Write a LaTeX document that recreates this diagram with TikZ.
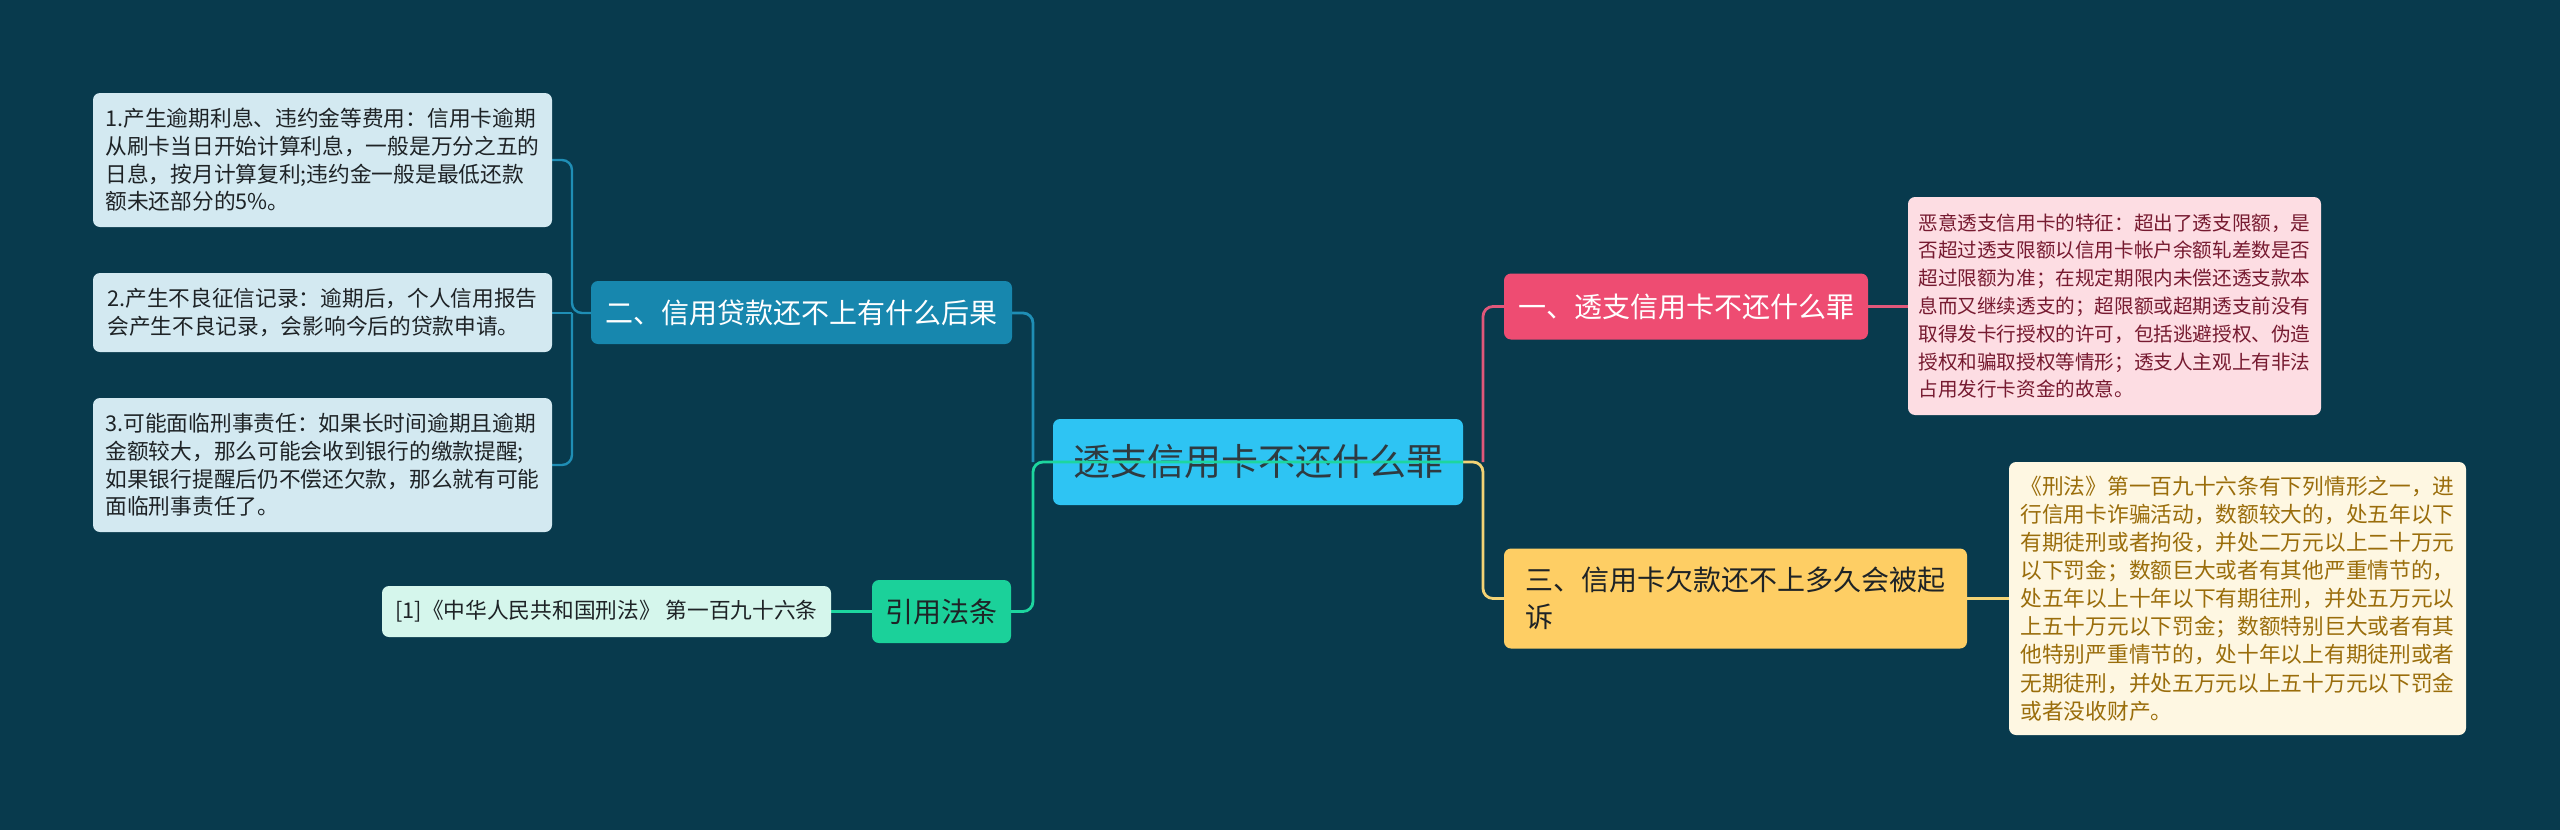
\documentclass[tikz,border=0pt]{standalone}
\usepackage{fontspec}
\setmainfont{Noto Sans CJK SC}
\definecolor{bg}{HTML}{083A4D}
\definecolor{cfill}{HTML}{2EC4F3}
\definecolor{ctext}{HTML}{2F3A40}
\definecolor{bluef}{HTML}{1787AE}
\definecolor{bluel}{HTML}{1F8EB5}
\definecolor{pinkf}{HTML}{EE4C72}
\definecolor{pinkl}{HTML}{E0577A}
\definecolor{yelf}{HTML}{FECE64}
\definecolor{yell}{HTML}{F3D375}
\definecolor{greenf}{HTML}{1BD19A}
\definecolor{greenl}{HTML}{1DD69F}
\definecolor{lbluef}{HTML}{D3E9F1}
\definecolor{lgreenf}{HTML}{D5F6EC}
\definecolor{lpinkf}{HTML}{FDDDE3}
\definecolor{lpinkt}{HTML}{761A30}
\definecolor{lyelf}{HTML}{FEF7E2}
\definecolor{lyelt}{HTML}{9A6D0B}
\definecolor{darkt}{HTML}{1E2326}
\tikzset{
  box/.style={rounded corners=7pt, inner sep=0pt, align=left},
  conn/.style={line width=2.8pt, rounded corners=10pt},
  thinconn/.style={line width=2.4pt, rounded corners=10pt}
}
\begin{document}
\begin{tikzpicture}[x=1pt,y=-1pt]
\fill[bg] (0,0) rectangle (2560,830);
\useasboundingbox (0,0) rectangle (2560,830);

\coordinate (lf) at (1033,462);
\coordinate (rf) at (1483,462);
\coordinate (lf2) at (572,313);

% connectors below nodes
\draw[conn, bluel] (1012,313) -| (lf);
\draw[conn, pinkl] (rf) |- (1504,306.5);
\draw[conn, yell] (1463,462) -- (rf) |- (1504,598.5);
\draw[thinconn, bluel] (591,313) -- (lf2) |- (552,160);
\draw[thinconn, bluel] (lf2) |- (552,465);
\draw[thinconn, bluel] (lf2) -- (552,313);
\draw[thinconn, pinkl] (1868,306.5) -- (1908,306.5);
\draw[thinconn, yell] (1967,598.5) -- (2009,598.5);
\draw[thinconn, greenl] (872,611.5) -- (831,611.5);

% nodes
\node[box, fill=cfill, text=ctext, minimum width=410pt, minimum height=86pt, align=center,
  font=\fontsize{37}{44}\selectfont] (c) at (1258,462) {透支信用卡不还什么罪};

\node[box, fill=pinkf, text=white, minimum width=364pt, minimum height=66pt, align=center,
  font=\fontsize{28}{34}\selectfont] (n1) at (1686,306.5) {一、透支信用卡不还什么罪};

\node[box, fill=bluef, text=white, minimum width=421pt, minimum height=63pt, align=center,
  font=\fontsize{28}{34}\selectfont] (n2) at (801.5,312.5) {二、信用贷款还不上有什么后果};

\node[box, fill=yelf, text=darkt, minimum width=463pt, minimum height=100pt,
  font=\fontsize{28}{37}\selectfont] (n3) at (1735.5,598.5) {三、信用卡欠款还不上多久会被起\\诉};

\node[box, fill=greenf, text=darkt, minimum width=139pt, minimum height=63pt, align=center,
  font=\fontsize{28}{34}\selectfont] (n4) at (941.5,611.5) {引用法条};

\node[box, fill=lpinkf, text=lpinkt, minimum width=413pt, minimum height=218pt,
  font=\fontsize{19.6}{27.8}\selectfont] (d1) at (2114.5,306) {恶意透支信用卡的特征：超出了透支限额，是\\否超过透支限额以信用卡帐户余额轧差数是否\\超过限额为准；在规定期限内未偿还透支款本\\息而又继续透支的；超限额或超期透支前没有\\取得发卡行授权的许可，包括逃避授权、伪造\\授权和骗取授权等情形；透支人主观上有非法\\占用发行卡资金的故意。};

\node[box, fill=lyelf, text=lyelt, minimum width=457pt, minimum height=273pt,
  font=\fontsize{21.7}{28.1}\selectfont] (d3) at (2237.5,598.5) {《刑法》第一百九十六条有下列情形之一，进\\行信用卡诈骗活动，数额较大的，处五年以下\\有期徒刑或者拘役，并处二万元以上二十万元\\以下罚金；数额巨大或者有其他严重情节的，\\处五年以上十年以下有期往刑，并处五万元以\\上五十万元以下罚金；数额特别巨大或者有其\\他特别严重情节的，处十年以上有期徒刑或者\\无期徒刑，并处五万元以上五十万元以下罚金\\或者没收财产。};

\node[box, fill=lbluef, text=darkt, minimum width=459pt, minimum height=134pt,
  font=\fontsize{21.7}{27.7}\selectfont] (b1) at (322.5,160) {1.产生逾期利息、违约金等费用：信用卡逾期\\从刷卡当日开始计算利息，一般是万分之五的\\日息，按月计算复利;违约金一般是最低还款\\额未还部分的5\%。};

\node[box, fill=lbluef, text=darkt, minimum width=459pt, minimum height=79pt,
  font=\fontsize{21.7}{27.7}\selectfont] (b2) at (322.5,312.5) {2.产生不良征信记录：逾期后，个人信用报告\\会产生不良记录，会影响今后的贷款申请。};

\node[box, fill=lbluef, text=darkt, minimum width=459pt, minimum height=134pt,
  font=\fontsize{21.7}{27.7}\selectfont] (b3) at (322.5,465) {3.可能面临刑事责任：如果长时间逾期且逾期\\金额较大，那么可能会收到银行的缴款提醒;\\如果银行提醒后仍不偿还欠款，那么就有可能\\面临刑事责任了。};

\node[box, fill=lgreenf, text=darkt, minimum width=449pt, minimum height=51pt, align=center,
  font=\fontsize{21.7}{27.7}\selectfont] (ref) at (606.5,611.5) {[1]《中华人民共和国刑法》 第一百九十六条};

% green connector drawn over the central node
\draw[conn, greenl] (c.east) -- (lf) |- (n4.east);
\end{tikzpicture}
\end{document}
